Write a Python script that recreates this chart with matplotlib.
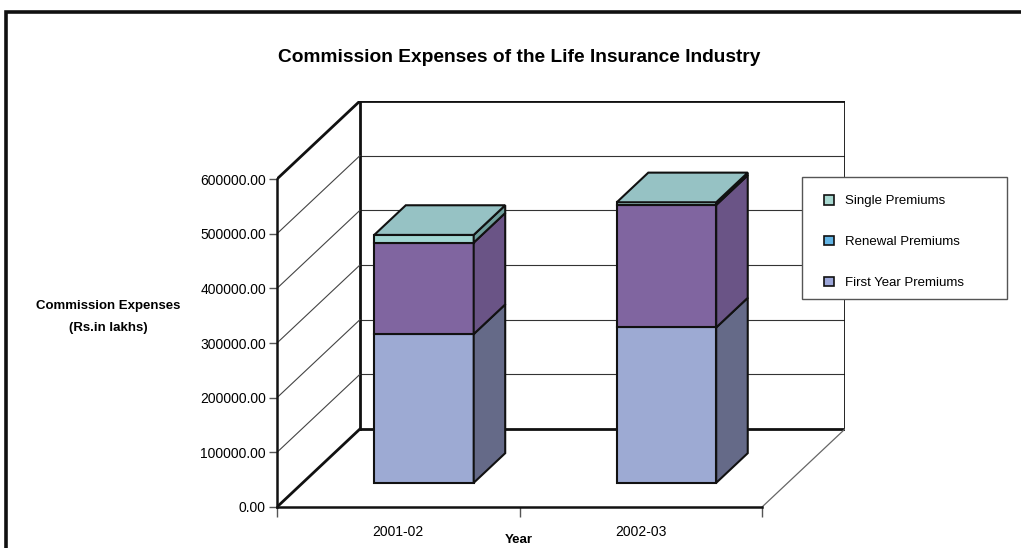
import matplotlib
matplotlib.use('Agg')
import matplotlib.pyplot as plt
from matplotlib.patches import Polygon, Patch, Rectangle
import numpy as np

plt.rcParams['font.family'] = ['Liberation Sans', 'DejaVu Sans']

# data (Rs. in lakhs)
years = ['2001-02', '2002-03']
first_year = [272100, 284200]
renewal = [167300, 224100]
single = [14100, 4900]
series_names = ['Single Premiums', 'Renewal Premiums', 'First Year Premiums']
yticks = [0, 100000, 200000, 300000, 400000, 500000, 600000]

# colours: (front, side) per series, legend swatches as drawn in the original
front_cols = {'first': '#9DAAD3', 'renewal': '#8065A0', 'single': '#A2D6D2'}
side_cols = {'first': '#656A88', 'renewal': '#6A5486', 'single': '#6F9E9C'}
top_col = '#96C2C4'
legend_cols = ['#A8D8D0', '#62B4E4', '#9CA6D8']

# fake 3d: depth offset of the back wall in data units
DX = 0.342
DY = 142700
D0, D1 = 0.31, 0.69    # front / back of the columns as fraction of depth
HW = 0.205             # half width of a column
YMAX = 600000
NCAT = len(years)

fig = plt.figure(figsize=(10.21, 5.48), dpi=100)
ax = fig.add_axes([277/1021, 41/548, 568/1021, 406/548])
ax.set_xlim(0, NCAT + DX)
ax.set_ylim(0, YMAX + DY)
ax.patch.set_visible(False)

# outer frame (runs off the right and bottom of the image)
fig.add_artist(Rectangle((6/1021, -0.2), 1.2, 1 - 12/548 + 0.2, transform=fig.transFigure,
                         fill=False, edgecolor='#111111', linewidth=2.6))

# back wall
for v in yticks[1:-1]:
    ax.plot([DX, NCAT + DX], [v + DY, v + DY], color='#333333', lw=0.8, zorder=1)
ax.plot([DX, DX, NCAT + DX, NCAT + DX], [DY, YMAX + DY, YMAX + DY, DY], color='#111111', lw=2.0, zorder=1)
ax.plot([DX, NCAT + DX], [DY, DY], color='#111111', lw=2.0, zorder=1)
# left wall
for v in yticks:
    thick = v in (0, YMAX)
    ax.plot([0, DX], [v, v + DY], color='#111111' if thick else '#444444',
            lw=2.0 if thick else 0.8, zorder=1)
# floor right edge
ax.plot([NCAT, NCAT + DX], [0, DY], color='#666666', lw=0.9, zorder=1)

# columns
for i in range(NCAT):
    segs = [('first', first_year[i]), ('renewal', renewal[i]), ('single', single[i])]
    xc = i + 0.5
    bottom = 0
    for key, val in segs:
        ax.bar(xc + D0 * DX, val, bottom=bottom + D0 * DY, width=2 * HW,
               color=front_cols[key], edgecolor='#111111', linewidth=1.5, zorder=3)
        xr = xc + HW
        side = [(xr + D0 * DX, bottom + D0 * DY), (xr + D1 * DX, bottom + D1 * DY),
                (xr + D1 * DX, bottom + val + D1 * DY), (xr + D0 * DX, bottom + val + D0 * DY)]
        ax.add_patch(Polygon(side, closed=True, facecolor=side_cols[key],
                             edgecolor='#111111', linewidth=1.5, zorder=3))
        bottom += val
    xl = xc - HW
    top = [(xl + D0 * DX, bottom + D0 * DY), (xr + D0 * DX, bottom + D0 * DY),
           (xr + D1 * DX, bottom + D1 * DY), (xl + D1 * DX, bottom + D1 * DY)]
    ax.add_patch(Polygon(top, closed=True, facecolor=top_col,
                         edgecolor='#111111', linewidth=1.5, zorder=4))

# axes: front value axis and category axis
for s in ('top', 'right'):
    ax.spines[s].set_visible(False)
ax.spines['left'].set_bounds(0, YMAX)
ax.spines['bottom'].set_bounds(0, NCAT)
ax.spines['left'].set_linewidth(1.8)
ax.spines['bottom'].set_linewidth(1.8)
ax.spines['left'].set_color('#111111')
ax.spines['bottom'].set_color('#111111')
ax.set_yticks(yticks)
ax.set_yticklabels(['%.2f' % v for v in yticks])
ax.tick_params(axis='y', length=6, width=1, color='#555555', labelsize=10, pad=2)
ax.set_xticks(range(NCAT + 1))
ax.set_xticklabels([])
ax.set_xticks([i + 0.5 for i in range(NCAT)], minor=True)
ax.set_xticklabels(years, minor=True)
ax.tick_params(axis='x', which='major', length=7, width=1, color='#555555')
ax.tick_params(axis='x', which='minor', length=0, labelsize=10, pad=13)

fig.text(519/1021, 1 - 540/548, 'Year', ha='center', va='center', fontsize=9.5, fontweight='bold')
fig.text(108/1021, 1 - 306/548, 'Commission Expenses', ha='center', va='center',
         fontsize=9.5, fontweight='bold')
fig.text(108/1021, 1 - 328/548, '(Rs.in lakhs)', ha='center', va='center',
         fontsize=9.5, fontweight='bold')
fig.text(519/1021, 1 - 58/548, 'Commission Expenses of the Life Insurance Industry',
         ha='center', va='center', fontsize=13.8, fontweight='bold')

# legend box drawn separately so the padding can match the original
fig.add_artist(Rectangle((802/1021, 1 - 299/548), 205/1021, 122/548, transform=fig.transFigure,
                         facecolor='white', edgecolor='#555555', linewidth=1.0, zorder=5))
handles = [Patch(facecolor=c, edgecolor='#111111', linewidth=1.2) for c in legend_cols]
leg = fig.legend(handles, series_names, loc='upper left', bbox_to_anchor=(824/1021, 1 - 195/548),
                 fontsize=9.5, frameon=False, handlelength=0.75, handleheight=0.75,
                 labelspacing=2.15, borderpad=0, handletextpad=0.85, borderaxespad=0)
leg.set_zorder(6)

fig.savefig('out.png', dpi=100)
